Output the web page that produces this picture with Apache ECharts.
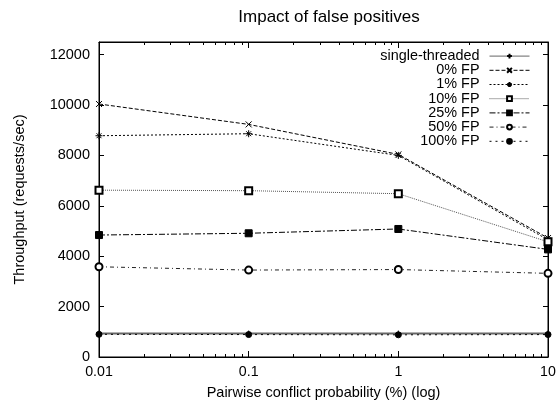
<!DOCTYPE html>
<html>
<head>
<meta charset="utf-8">
<script src="https://cdn.jsdelivr.net/npm/echarts@6/dist/echarts.min.js"></script>
<style>
  html, body { margin: 0; padding: 0; background: #fff; }
  #chart { width: 557px; height: 405px; }
</style>
</head>
<body>
<div id="chart"></div>
<script>
// pairwise conflict probability (%), log axis
const probs = [0.01, 0.1, 1, 10];
const xLabels = [0.01, 0.1, 1, 10];
const xMinor = [0.02, 0.03, 0.04, 0.05, 0.06, 0.07, 0.08, 0.09,
  0.2, 0.3, 0.4, 0.5, 0.6, 0.7, 0.8, 0.9,
  2, 3, 4, 5, 6, 7, 8, 9];

// throughput (requests/sec)
const singleThreaded = [930, 930, 930, 930];
const fp0 = [10040, 9230, 8040, 4720];
const fp1 = [8780, 8860, 8000, 4650];
const fp10 = [6620, 6600, 6480, 4570];
const fp25 = [4840, 4910, 5080, 4270];
const fp50 = [3580, 3450, 3470, 3320];
const fp100 = [900, 890, 880, 890];

const font = 'Liberation Sans, Arial, Helvetica, sans-serif';

const chart = echarts.init(document.getElementById('chart'));

const makeSeries = (name, values, symbol, size, dash, color, width) => ({
  name: name,
  type: 'line',
  data: probs.map((p, i) => [p, values[i]]),
  symbol: symbol,
  symbolSize: size,
  showAllSymbol: true,
  animation: false,
  lineStyle: { color: color, width: width, type: dash },
  itemStyle: { color: '#000', borderColor: '#000', borderWidth: 1 }
});

const option = {
  animation: false,
  title: {
    text: 'Impact of false positives',
    left: 324,
    textAlign: 'center',
    top: 4,
    textStyle: { fontFamily: font, fontSize: 17, fontWeight: 'normal', color: '#000' }
  },
  legend: {
    orient: 'vertical',
    right: 22,
    top: 44,
    align: 'right',
    itemWidth: 40,
    itemHeight: 6,
    itemGap: 0,
    lineStyle: { width: 1 },
    textStyle: {
      fontFamily: font, fontSize: 14.4, color: '#000',
      width: 104, align: 'right', lineHeight: 14.2, padding: [0, 5, 0, 0]
    },
    data: ['single-threaded', '0% FP', '1% FP', '10% FP', '25% FP', '50% FP', '100% FP']
  },
  grid: {
    left: 99, right: 9, top: 42, bottom: 48, outerBoundsMode: 'none',
    show: true, borderColor: '#000', borderWidth: 1, backgroundColor: 'transparent'
  },
  xAxis: [
    {
      type: 'log', logBase: 10, min: 0.01, max: 10, position: 'bottom',
      name: 'Pairwise conflict probability (%) (log)',
      nameLocation: 'middle', nameGap: 28,
      nameTextStyle: { fontFamily: font, fontSize: 14.5, color: '#000' },
      axisLine: { lineStyle: { color: '#000', width: 1 } },
      axisTick: { inside: true, length: 6, customValues: xLabels, lineStyle: { color: '#000' } },
      axisLabel: { customValues: xLabels, fontFamily: font, fontSize: 14.2, color: '#000', margin: 8,
        formatter: v => String(v) },
      splitLine: { show: false }
    },
    {
      type: 'log', logBase: 10, min: 0.01, max: 10, position: 'bottom',
      axisLine: { show: false },
      axisTick: { inside: true, length: 3, customValues: xMinor, lineStyle: { color: '#000' } },
      axisLabel: { show: false },
      splitLine: { show: false }
    },
    {
      type: 'log', logBase: 10, min: 0.01, max: 10, position: 'top',
      axisLine: { lineStyle: { color: '#000', width: 1 } },
      axisTick: { inside: true, length: 6, customValues: xLabels, lineStyle: { color: '#000' } },
      axisLabel: { show: false },
      splitLine: { show: false }
    },
    {
      type: 'log', logBase: 10, min: 0.01, max: 10, position: 'top',
      axisLine: { show: false },
      axisTick: { inside: true, length: 3, customValues: xMinor, lineStyle: { color: '#000' } },
      axisLabel: { show: false },
      splitLine: { show: false }
    }
  ],
  yAxis: [
    {
      type: 'value', min: 0, max: 12500, interval: 2000, position: 'left',
      name: 'Throughput (requests/sec)',
      nameLocation: 'middle', nameGap: 72,
      nameTextStyle: { fontFamily: font, fontSize: 14.5, color: '#000' },
      axisLine: { show: true, lineStyle: { color: '#000', width: 1 } },
      axisTick: { show: true, inside: true, length: 5, lineStyle: { color: '#000' } },
      axisLabel: { fontFamily: font, fontSize: 14.5, color: '#000', margin: 9, showMaxLabel: false,
        formatter: v => String(v) },
      splitLine: { show: false }
    },
    {
      type: 'value', min: 0, max: 12500, interval: 2000, position: 'right',
      axisLine: { show: true, lineStyle: { color: '#000', width: 1 } },
      axisTick: { show: true, inside: true, length: 5, lineStyle: { color: '#000' } },
      axisLabel: { show: false },
      splitLine: { show: false }
    }
  ],
  series: [
    makeSeries('single-threaded', singleThreaded, 'path://M5,0L5,10M0,5L10,5', 6, 'solid', '#666', 2),
    makeSeries('0% FP', fp0, 'path://M0,0L10,10M10,0L0,10', 6, [4, 2], '#000', 1),
    makeSeries('1% FP', fp1, 'path://M5,0L5,10M0,5L10,5M1.5,1.5L8.5,8.5M8.5,1.5L1.5,8.5', 7, [2, 2], '#000', 1),
    makeSeries('10% FP', fp10, 'emptyRect', 7, [1, 1], '#555', 1),
    makeSeries('25% FP', fp25, 'rect', 7, [6, 2, 2, 2], '#000', 1),
    makeSeries('50% FP', fp50, 'emptyCircle', 7, [4, 3, 1, 3], '#222', 1),
    makeSeries('100% FP', fp100, 'circle', 6, [2, 4], '#000', 1)
  ]
};

chart.setOption(option);
</script>
</body>
</html>
